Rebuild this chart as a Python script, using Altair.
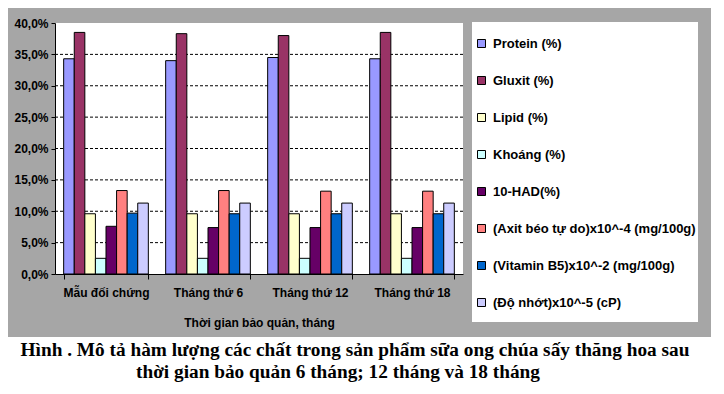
import altair as alt
import pandas as pd

categories = ["Mẫu đối chứng", "Tháng thứ 6", "Tháng thứ 12", "Tháng thứ 18"]
series = ["Protein (%)", "Gluxit (%)", "Lipid (%)", "Khoáng (%)", "10-HAD(%)",
          "(Axit béo tự do)x10^-4 (mg/100g)", "(Vitamin B5)x10^-2 (mg/100g)",
          "(Độ nhớt)x10^-5 (cP)"]
colors = ["#9999FF", "#993366", "#FFFFCC", "#CCFFFF", "#660066", "#FF8080",
          "#0066CC", "#CCCCFF"]
protein = [34.3, 34.0, 34.5, 34.3]
gluxit = [38.5, 38.3, 38.0, 38.5]
lipid = [9.6, 9.6, 9.6, 9.6]
khoang = [2.5, 2.5, 2.5, 2.5]
had = [7.6, 7.4, 7.4, 7.4]
axit = [13.3, 13.3, 13.2, 13.2]
vitb5 = [9.7, 9.6, 9.6, 9.6]
donhot = [11.3, 11.3, 11.3, 11.3]
y_ticks = [0, 5, 10, 15, 20, 25, 30, 35, 40]
grid_vals = [5, 10, 15, 20, 25, 30, 35]
x_title = "Thời gian bảo quản, tháng"
caption1 = "Hình . Mô tả hàm lượng các chất trong sản phẩm sữa ong chúa sấy thăng hoa sau"
caption2 = "thời gian bảo quản 6 tháng; 12 tháng và 18 tháng"

all_vals = [protein, gluxit, lipid, khoang, had, axit, vitb5, donhot]
rows = []
for s, vals in zip(series, all_vals):
    for c, v in zip(categories, vals):
        rows.append({"cat": c, "series": s, "value": v})
df = pd.DataFrame(rows)

W, H = 408, 251
one = alt.Data(values=[{"a": 1}])

y_axis = alt.Axis(values=y_ticks, grid=False, tickSize=4, labelPadding=3, zindex=1,
                  labelExpr="replace(format(datum.value, '.1f'), '.', ',') + '%'")
y_scale = alt.Scale(domain=[0, 40], nice=False)

bg = alt.Chart(one).mark_rect(color="#A6A6A6").encode(
    x=alt.value(-47), x2=alt.value(656), y=alt.value(-15), y2=alt.value(314))
plotbg = alt.Chart(one).mark_rect(color="white").encode(
    x=alt.value(0), x2=alt.value(W), y=alt.value(0), y2=alt.value(H))
legbg = alt.Chart(one).mark_rect(color="white").encode(
    x=alt.value(417), x2=alt.value(643), y=alt.value(-1), y2=alt.value(299))

grid = alt.Chart(pd.DataFrame({"value": grid_vals})).mark_rule(
    color="black", strokeDash=[3, 2], strokeWidth=1).encode(
    y=alt.Y("value:Q", title=None, scale=y_scale, axis=y_axis))

bars = alt.Chart(df).mark_bar(stroke="black", strokeWidth=1).encode(
    x=alt.X("cat:N", sort=categories, title=x_title,
            scale=alt.Scale(paddingInner=0.17, paddingOuter=0.085),
            axis=alt.Axis(labelAngle=0, tickBand="extent", tickSize=5,
                          labelPadding=8, titlePadding=19, grid=False, zindex=1)),
    xOffset=alt.XOffset("series:N", sort=series, scale=alt.Scale(paddingInner=0, paddingOuter=0)),
    y=alt.Y("value:Q", title=None, scale=y_scale, axis=y_axis),
    color=alt.Color("series:N", sort=series,
                    scale=alt.Scale(domain=series, range=colors),
                    legend=alt.Legend(title=None, orient="none", legendX=420, legendY=14,
                                      symbolType="square", symbolSize=64,
                                      symbolStrokeColor="black", symbolStrokeWidth=1,
                                      labelFont="Liberation Sans", labelFontSize=13,
                                      labelFontWeight="bold", labelColor="black",
                                      labelOffset=5,
                                      rowPadding=23, padding=0, labelLimit=300)),
)

cap1 = alt.Chart(one).mark_text(font="Liberation Serif", fontSize=19.3, fontWeight="bold",
                                color="black", align="center", baseline="alphabetic").encode(
    x=alt.value(300), y=alt.value(333), text=alt.value(caption1))
cap2 = alt.Chart(one).mark_text(font="Liberation Serif", fontSize=19.3, fontWeight="bold",
                                color="black", align="center", baseline="alphabetic").encode(
    x=alt.value(283), y=alt.value(355), text=alt.value(caption2))

chart = alt.layer(bg, plotbg, legbg, grid, bars, cap1, cap2).properties(
    width=W, height=H,
    autosize=alt.AutoSizeParams(type="none"),
    padding={"left": 47, "top": 15, "right": 253, "bottom": 112},
    background="white",
).configure_view(stroke="black", strokeWidth=1, fill=None).configure_axis(
    labelFont="Liberation Sans", labelFontSize=12, labelFontWeight="bold", labelColor="black",
    titleFont="Liberation Sans", titleFontSize=12, titleFontWeight="bold", titleColor="black",
    domainColor="black", tickColor="black",
)

chart.save("out.html", embed_options={"renderer": "svg", "actions": False})
